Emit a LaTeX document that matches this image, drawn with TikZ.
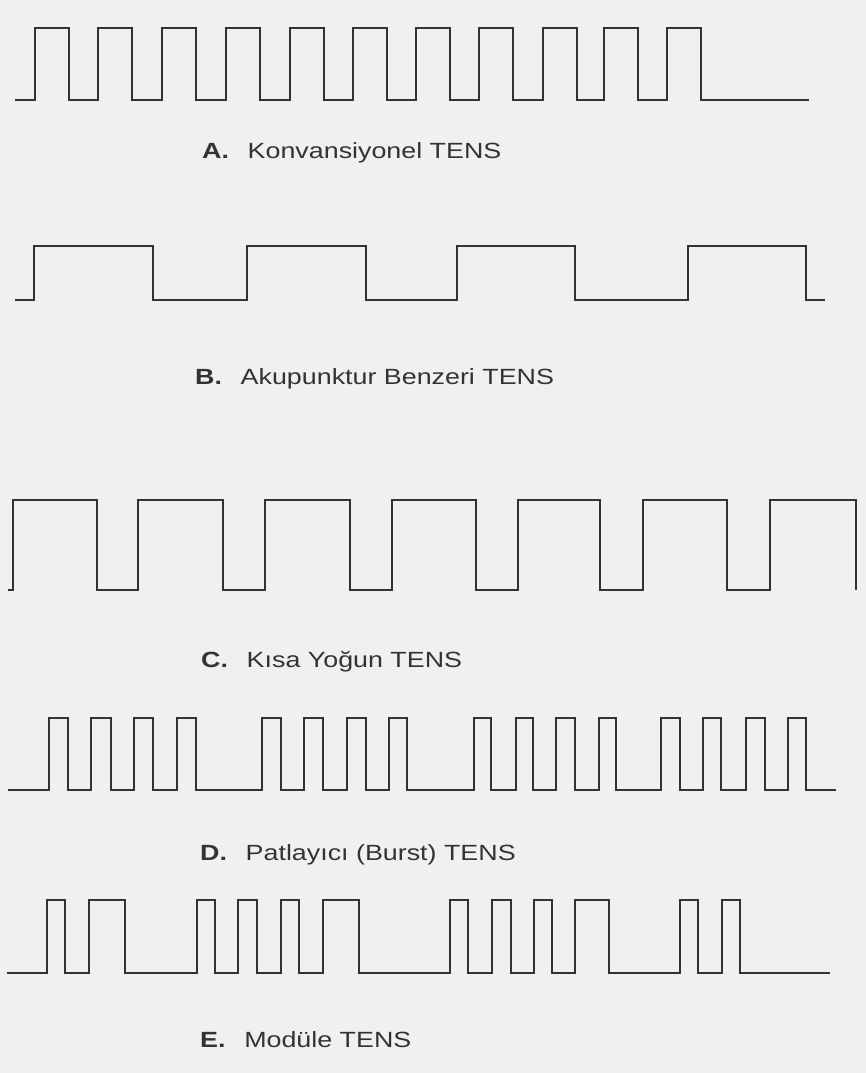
\documentclass[tikz,border=0pt]{standalone}
\usepackage{fontspec}
\setmainfont{Liberation Sans}
\newfontfamily\lblfont[FakeStretch=1.22]{Liberation Sans}
\begin{document}
\begin{tikzpicture}[x={(1pt,0)},y={(0,-1pt)},
  wave/.style={draw=black!80, line width=1.6pt, line join=miter},
  lbl/.style={anchor=west, inner sep=0pt, text=black!80, font=\lblfont\fontsize{22}{26}\selectfont}]
\fill[black!6] (0,0) rectangle (866,1073);
\useasboundingbox (0,0) rectangle (866,1073);
% A
\draw[wave] (15,100) foreach \a in {35,98,162,226,290,353,416,479,543,604,667} { -- (\a,100) -- (\a,28) -- ({\a+34},28) -- ({\a+34},100) } -- (809,100);
\node[lbl] (la) at (202,153) {\textbf{A.}\hspace{0.85em}Konvansiyonel TENS};
% B
\draw[wave] (15,300) foreach \a/\b in {34/153,247/366,457/575,688/806} { -- (\a,300) -- (\a,246) -- (\b,246) -- (\b,300) } -- (825,300);
\node[lbl] (lb) at (195,379) {\textbf{B.}\hspace{0.85em}Akupunktur Benzeri TENS};
% C
\draw[wave] (8,590) foreach \a/\b in {13/97,138/223,265/350,392/476,518/600,643/727,770/856} { -- (\a,590) -- (\a,500) -- (\b,500) -- (\b,590) } -- (856,590);
\node[lbl] (lc) at (201,662) {\textbf{C.}\hspace{0.85em}Kısa Yoğun TENS};
% D
\draw[wave] (8,790) foreach \a/\b in {49/68,91/111,134/153,177/196,262/281,304/323,347/366,389/407,474/491,516/533,556/575,599/616,661/680,703/721,746/765,788/806} { -- (\a,790) -- (\a,718) -- (\b,718) -- (\b,790) } -- (836,790);
\node[lbl] (ld) at (200,855) {\textbf{D.}\hspace{0.85em}Patlayıcı (Burst) TENS};
% E
\draw[wave] (7,973) foreach \a/\b in {47/65,89/125,197/215,238/257,281/299,323/359,450/468,492/511,534/552,575/609,680/698,722/740} { -- (\a,973) -- (\a,900) -- (\b,900) -- (\b,973) } -- (830,973);
\node[lbl] (le) at (200,1040) {\textbf{E.}\hspace{0.85em}Modüle TENS};
\end{tikzpicture}
\end{document}
